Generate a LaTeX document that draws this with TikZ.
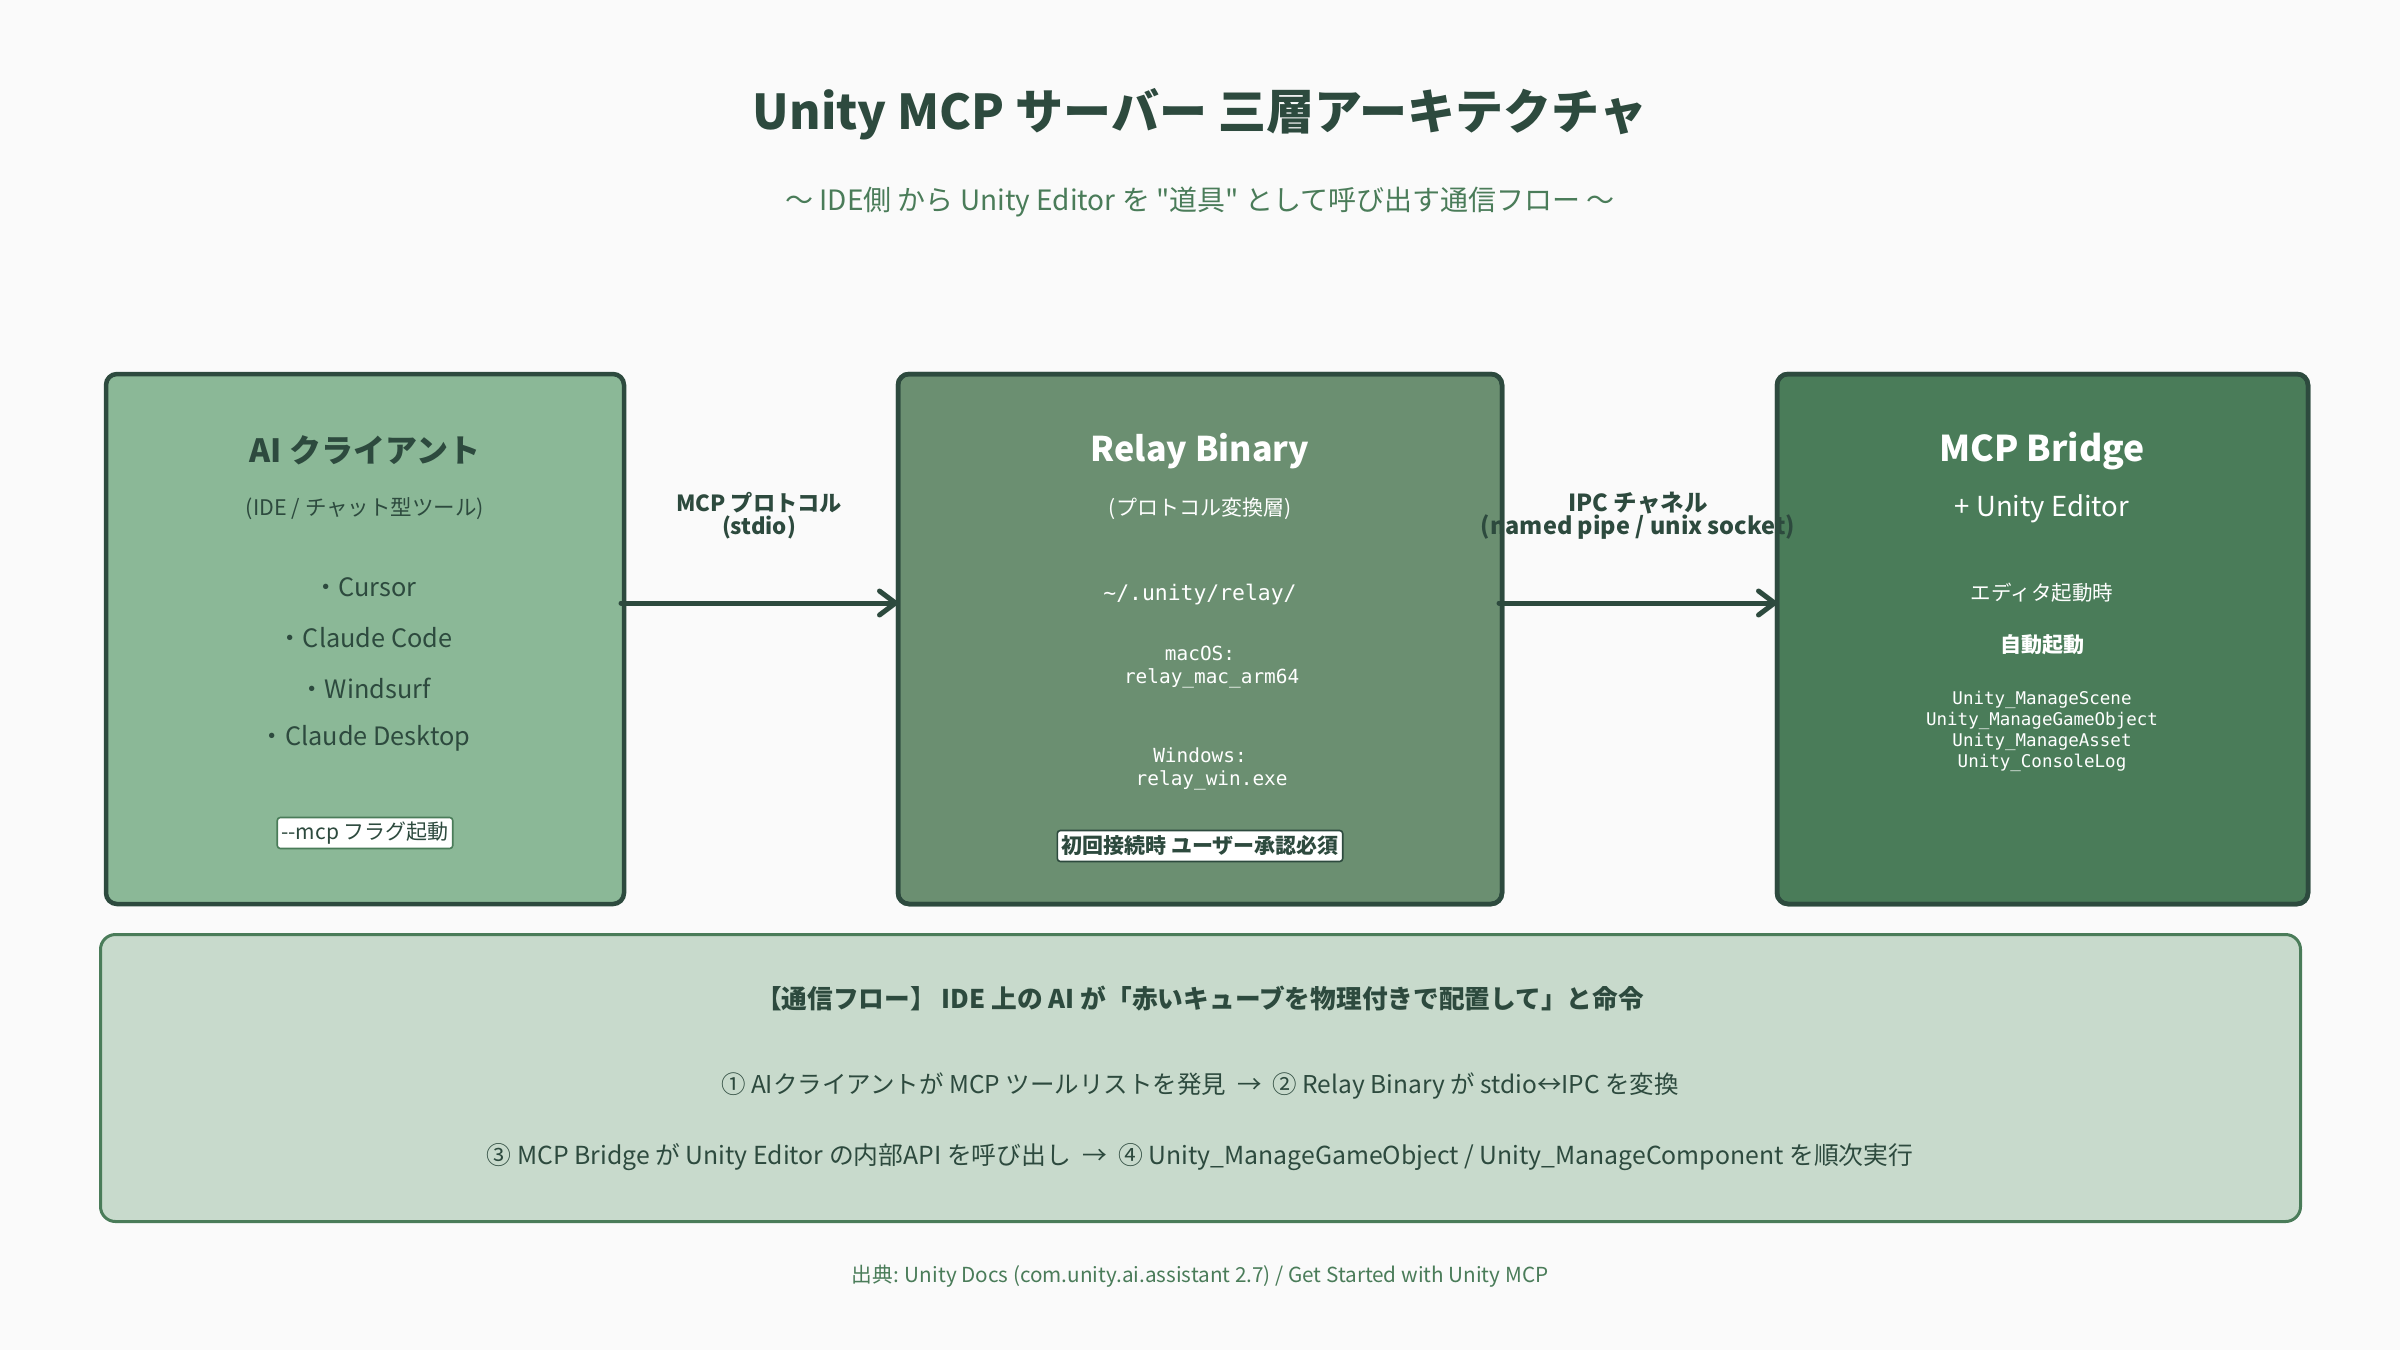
\documentclass[tikz,border=0pt]{standalone}
\usepackage{fontspec}
\setmainfont{Noto Sans CJK JP}[Ligatures=TeXOff]
\newfontfamily\codefont{DejaVu Sans Mono}
\usetikzlibrary{arrows.meta}
\definecolor{bgc}{HTML}{FAFAFA}
\definecolor{ink}{HTML}{2D4A3E}
\definecolor{leaf}{HTML}{4A7C59}
\definecolor{fillA}{HTML}{8BB897}
\definecolor{fillB}{HTML}{6B8F71}
\definecolor{fillC}{HTML}{4A7C59}
\definecolor{fillD}{HTML}{C8DACC}
\newcommand\fsz[2]{\fontsize{#1}{#2}\selectfont}
\begin{document}
\begin{tikzpicture}[x=1pt,y=-1pt,
  layerbox/.style={draw=ink, line width=4.5pt, rounded corners=11pt, outer sep=0pt, inner sep=0pt, minimum height=530pt},
  txt/.style={inner sep=0pt, outer sep=0pt, align=center},
  badge/.style={fill=white, line width=1.6pt, rounded corners=3pt, inner xsep=4pt, inner ysep=0pt, minimum height=31pt},
  arr/.style={draw=ink, line width=5pt, line cap=round, -{Straight Barb[length=16pt,width=24pt,line cap=round,line join=round]}},
  conlabel/.style={txt, text=ink},
]
\useasboundingbox (0,0) rectangle (2400,1350);
\fill[bgc] (0,0) rectangle (2400,1350);

% title
\node[txt, text=ink, font=\fsz{48}{56}\bfseries] (title) at (1200,114) {Unity MCP サーバー 三層アーキテクチャ};
\node[txt, text=leaf, font=\fsz{28}{32}] (subtitle) at (1200,202) {〜 IDE側 から Unity Editor を "道具" として呼び出す通信フロー 〜};

% boxes
\node[layerbox, fill=fillA, minimum width=518pt] (client) at (365,639) {};
\node[layerbox, fill=fillB, minimum width=604pt] (relay) at (1200,639) {};
\node[layerbox, fill=fillC, minimum width=531pt] (bridge) at (2042.5,639) {};

% client texts
\node[txt, text=ink, font=\fsz{32}{36}\bfseries] (ctitle) at (365,450) {AI クライアント};
\node[txt, text=ink, font=\fsz{21.5}{24}] (csub) at (365,509) {(IDE / チャット型ツール)};
\node[txt, text=ink, font=\fsz{25.3}{28}] (c1) at (365,587) {・Cursor};
\node[txt, text=ink, font=\fsz{25.3}{28}] (c2) at (365,638) {・Claude Code};
\node[txt, text=ink, font=\fsz{25.3}{28}] (c3) at (365,688) {・Windsurf};
\node[txt, text=ink, font=\fsz{25.3}{28}] (c4) at (365,738) {・Claude Desktop};
\node[badge, draw=leaf, text=ink, font=\fsz{21}{24}] (cbadge) at (365,833) {--mcp フラグ起動};

% relay texts
\node[txt, text=white, font=\fsz{34}{38}\bfseries] (rtitle) at (1200,451) {Relay Binary};
\node[txt, text=white, font=\fsz{21}{24}] (rsub) at (1200,509) {(プロトコル変換層)};
\node[txt, text=white, font=\codefont\fsz{21.4}{24}] (rpath) at (1200,595) {\char"7E/.unity/relay/};
\node[txt, text=white, font=\codefont\fsz{19.4}{23}] (rmac) at (1200,667.5) {macOS:\\\hspace*{1.2em}relay\_mac\_arm64};
\node[txt, text=white, font=\codefont\fsz{19.4}{23}] (rwin) at (1200,768.5) {Windows:\\\hspace*{1.2em}relay\_win.exe};
\node[badge, draw=ink, text=ink, font=\fsz{21}{24}\bfseries] (rbadge) at (1200,846) {初回接続時 ユーザー承認必須};

% bridge texts
\node[txt, text=white, font=\fsz{35.5}{40}\bfseries] (btitle) at (2042,451) {MCP Bridge};
\node[txt, text=white, font=\fsz{27.5}{30}] (bsub) at (2042,509) {+ Unity Editor};
\node[txt, text=white, font=\fsz{20.5}{24}] (bstart) at (2042,593) {エディタ起動時};
\node[txt, text=white, font=\fsz{21}{24}\bfseries] (bauto) at (2042,645) {自動起動};
\node[txt, text=white, font=\codefont\fsz{17.5}{21}] (btools) at (2042,731.5) {Unity\_ManageScene\\Unity\_ManageGameObject\\Unity\_ManageAsset\\Unity\_ConsoleLog};

% connector labels
\node[conlabel, font=\fsz{22.2}{23}\bfseries] (l1) at (759,516) {MCP プロトコル\\(stdio)};
\node[conlabel, font=\fsz{23.5}{23}\bfseries] (l2) at (1638,516) {IPC チャネル\\(named pipe / unix socket)};

% re-stroke box borders over labels
\draw[draw=ink, line width=4.5pt, rounded corners=11pt] (relay.north west) rectangle (relay.south east);
\draw[draw=ink, line width=4.5pt, rounded corners=11pt] (bridge.north west) rectangle (bridge.south east);

% arrows
\draw[arr] ([xshift=-3pt,yshift=36pt]client.east) -- ([yshift=36pt]relay.west);
\draw[arr] ([xshift=-3pt,yshift=36pt]relay.east) -- ([yshift=36pt]bridge.west);

% flow box
\node[draw=leaf, fill=fillD, line width=3pt, rounded corners=15pt, minimum width=2200pt, minimum height=287pt, inner sep=0pt] (flow) at (1200.5,1078) {};
\node[txt, text=ink, font=\fsz{25.7}{28}\bfseries] (fhead) at (1200,999) {【通信フロー】 IDE 上の AI が「赤いキューブを物理付きで配置して」と命令};
\node[txt, text=ink, font=\fsz{24.5}{28}] (f1) at (1200,1085.5) {① AIクライアントが MCP ツールリストを発見 \ →\ \ ② Relay Binary が stdio↔IPC を変換};
\node[txt, text=ink, font=\fsz{24.8}{28}] (f2) at (1200,1157.5) {③ MCP Bridge が Unity Editor の内部API を呼び出し \ →\ \ ④ Unity\_ManageGameObject / Unity\_ManageComponent を順次実行};

% footer
\node[txt, text=leaf, font=\fsz{20.7}{24}] (footer) at (1200,1276) {出典: Unity Docs (com.unity.ai.assistant 2.7) / Get Started with Unity MCP};
\end{tikzpicture}
\end{document}
